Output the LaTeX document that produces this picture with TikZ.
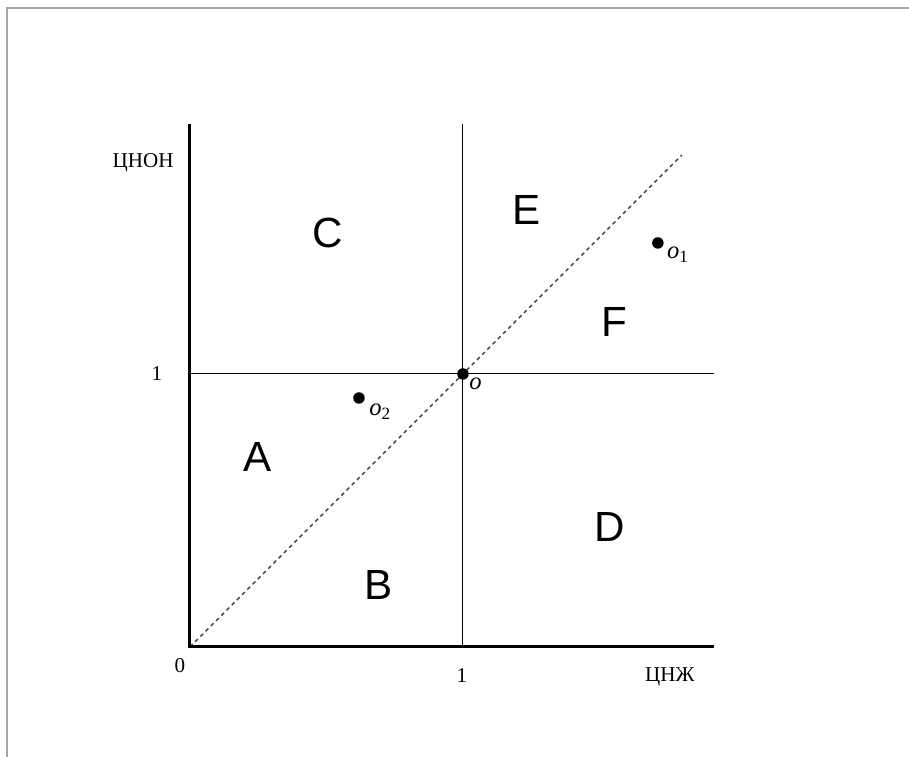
\documentclass[tikz,border=0pt]{standalone}
\usepackage{fontspec}
\setmainfont{Liberation Serif}
\newfontfamily\regionfont{Liberation Sans}
\begin{document}
\begin{tikzpicture}[
  x=5.46cm, y=5.46cm,
  region/.style={font=\regionfont\fontsize{24}{28}\selectfont, inner sep=0pt},
  tick/.style={font=\fontsize{12}{14}\selectfont, inner sep=0pt},
  ptlabel/.style={font=\fontsize{14}{16}\selectfont, inner sep=0pt},
  axis/.style={line width=1.7pt, black},
  grid/.style={line width=0.6pt, black},
  diag/.style={line width=0.75pt, gray!50!black, dash pattern=on 2.2pt off 2pt},
  dot/.style={circle, fill=black, inner sep=0pt, minimum size=0.23cm}
]
\useasboundingbox (-0.696,-0.403) rectangle (2.634,2.370);

% frame
\draw[gray!70, line width=1.1pt] (-0.670,-0.403) -- (-0.670,2.340) -- (2.634,2.340);

% key points
\coordinate (origin) at (0,0);
\coordinate (ytop)   at (0,1.916);
\coordinate (xend)   at (1.919,0);
\coordinate (dend)   at (1.802,1.802);
\coordinate (hleft)  at (0,1);
\coordinate (hright) at (1.919,1);
\coordinate (vbot)   at (1,0);
\coordinate (vtop)   at (1,1.916);

% unit lines
\draw[grid] (hleft) -- (hright);
\draw[grid] (vbot) -- (vtop);

% diagonal
\draw[diag] (origin) -- (dend);

% axes
\draw[axis] (ytop) -- (origin) -- (xend);

% points
\node[dot] (o)  at (1,1) {};
\node[dot] (o1) at (1.714,1.480) {};
\node[dot] (o2) at (0.619,0.912) {};
\node[ptlabel] (lo)  at (1.046,0.963) {\textit{o}};
\node[ptlabel] (lo1) at (1.788,1.436) {\textit{o}\textsubscript{1}};
\node[ptlabel] (lo2) at (0.697,0.861) {\textit{o}\textsubscript{2}};

% regions
\node[region] (C) at (0.505,1.516) {C};
\node[region] (E) at (1.234,1.601) {E};
\node[region] (F) at (1.553,1.190) {F};
\node[region] (A) at (0.249,0.696) {A};
\node[region] (B) at (0.689,0.227) {B};
\node[region] (D) at (1.538,0.440) {D};

% axis labels
\node[tick] (ylab)  at (-0.172,1.773) {ЦНОН};
\node[tick] (yone)  at (-0.121,1.0)   {1};
\node[tick] (zero)  at (-0.037,-0.070) {0};
\node[tick] (xone)  at (0.996,-0.106) {1};
\node[tick] (xlab)  at (1.758,-0.110) {ЦНЖ};

\end{tikzpicture}
\end{document}
